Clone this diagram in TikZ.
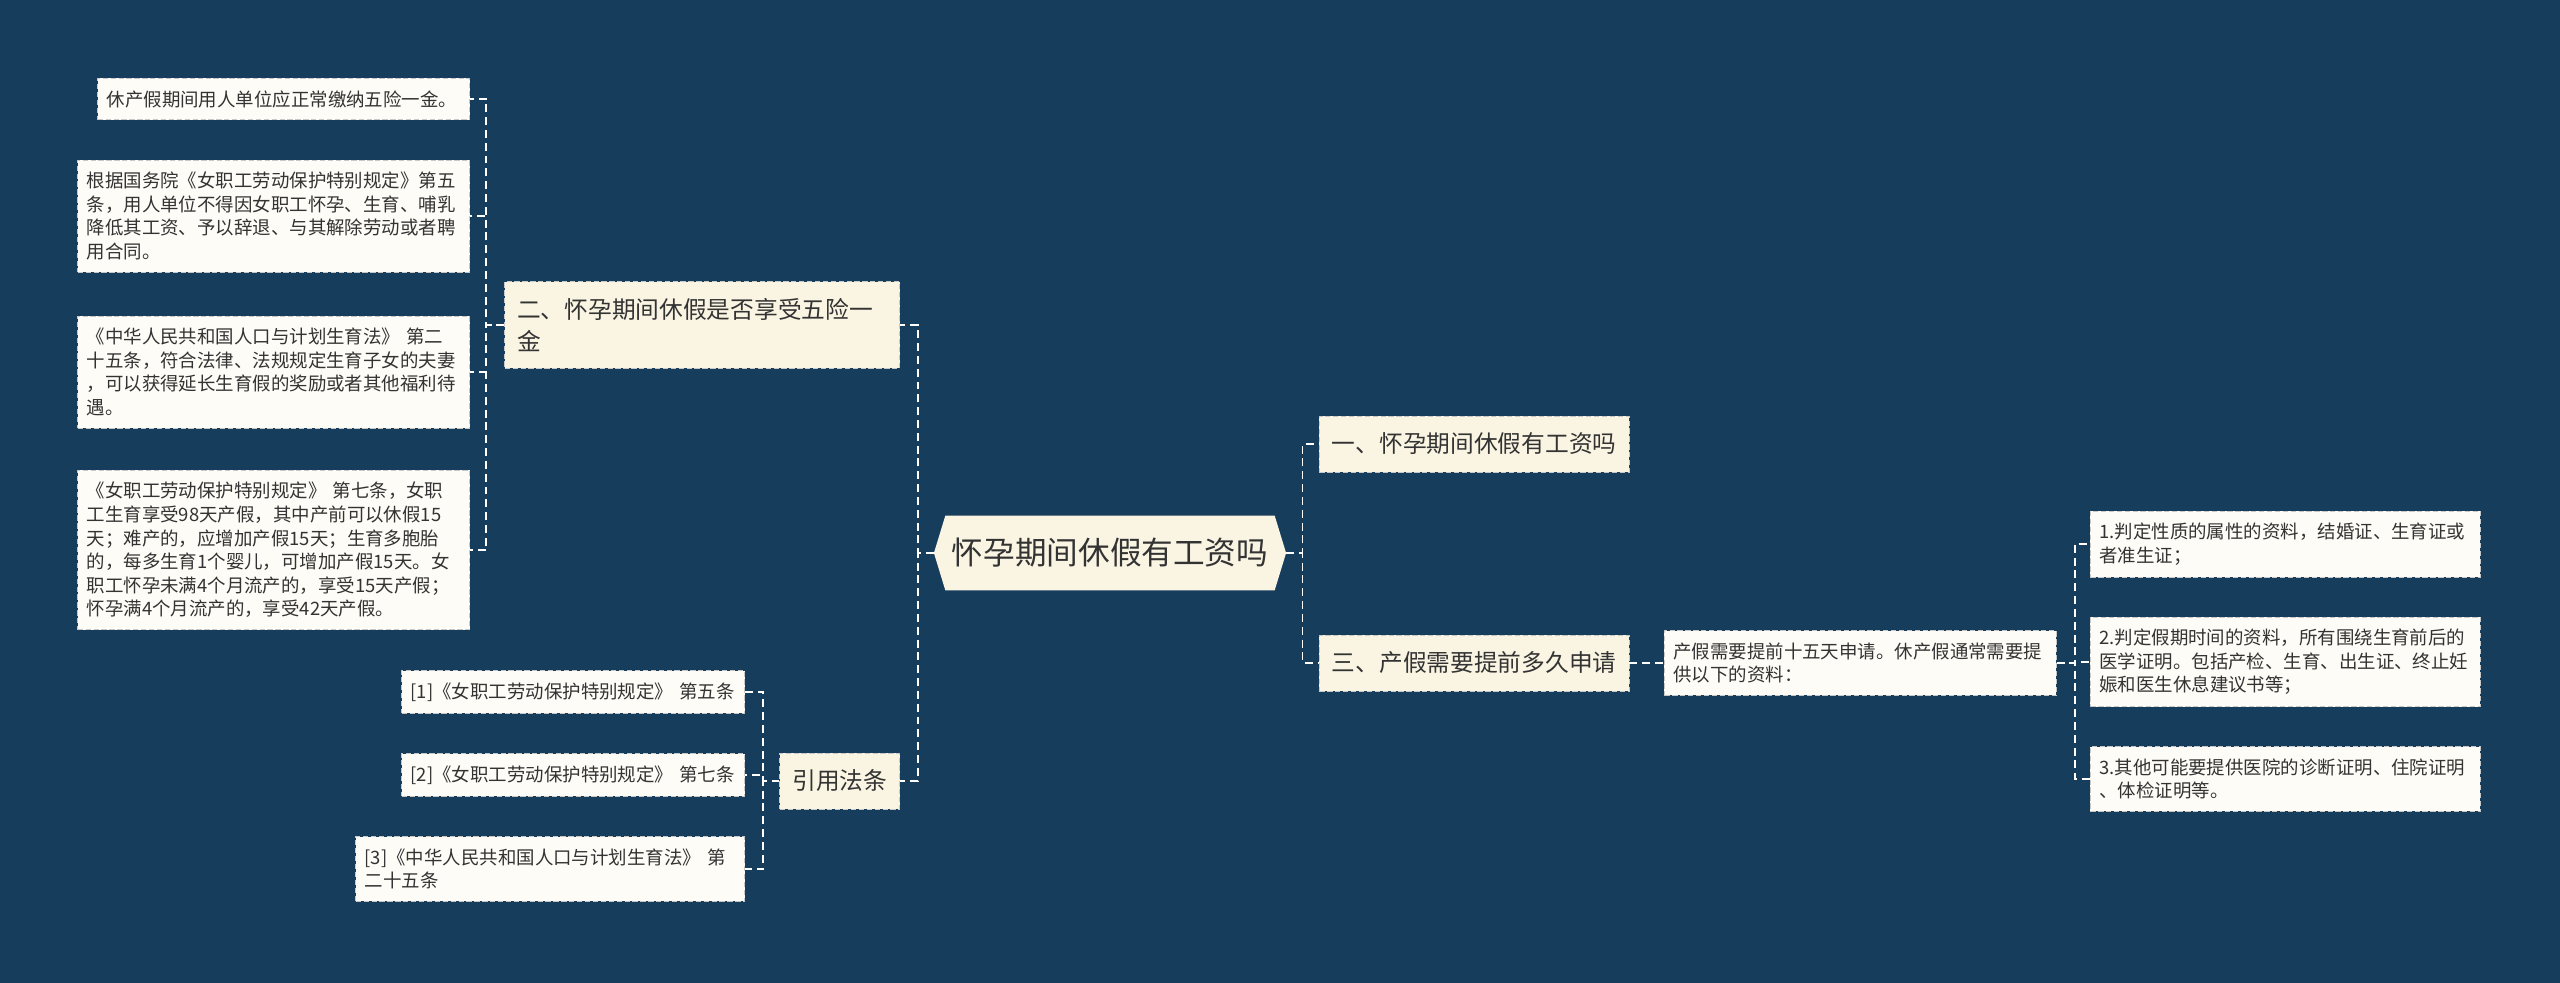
\documentclass[tikz,border=0pt]{standalone}
\usepackage{fontspec}
\setmainfont{Noto Sans CJK SC}
\usepackage{tikz}
\usetikzlibrary{shapes.symbols}
\usepackage{xcolor}
\definecolor{bgblue}{RGB}{23,61,92}
\definecolor{topicfill}{RGB}{250,245,227}
\definecolor{leaffill}{RGB}{253,252,246}
\definecolor{boxline}{RGB}{200,200,200}
\definecolor{txt}{RGB}{51,51,51}

\begin{document}
\begin{tikzpicture}[x=0.02cm, y=-0.02cm,
  root/.style={signal, signal to=west and east, signal pointer angle=146, fill=topicfill, text=txt, font=\fontsize{18pt}{22pt}\selectfont, minimum height=1.5cm, inner xsep=0.13cm},
  topic/.style={draw=boxline, dash pattern=on 3pt off 1.5pt, fill=topicfill, text=txt, font=\fontsize{13.5pt}{18pt}\selectfont, inner xsep=0.25cm, inner ysep=0.34cm, align=left},
  leaf/.style={draw=boxline, dash pattern=on 3pt off 1.5pt, fill=leaffill, text=txt, font=\fontsize{10.5pt}{13.4pt}\selectfont, inner xsep=0.18cm, inner ysep=0.24cm, align=left},
  link/.style={white, line width=1.1pt, dash pattern=on 4.5pt off 2.8pt}]
% 思维导图：怀孕期间休假有工资吗
\fill[bgblue] (0,0) rectangle (2560,983);
\useasboundingbox (0,0) rectangle (2560,983);

\node[root] (root) at (1110,553) {怀孕期间休假有工资吗};

\node[topic, anchor=east, text width=7.4cm] (t2) at (900,325) {二、怀孕期间休假是否享受五险一\\金};
\node[topic, anchor=east] (cite) at (900,781) {引用法条};
\node[topic, anchor=west] (t1) at (1319,444) {一、怀孕期间休假有工资吗};
\node[topic, anchor=west] (t3) at (1319,663) {三、产假需要提前多久申请};

\node[leaf, anchor=east, text width=7.08cm] (l1) at (470,99) {休产假期间用人单位应正常缴纳五险一金。};
\node[leaf, anchor=east, text width=7.48cm] (l2) at (470,216) {根据国务院《女职工劳动保护特别规定》第五\\条，用人单位不得因女职工怀孕、生育、哺乳\\降低其工资、予以辞退、与其解除劳动或者聘\\用合同。};
\node[leaf, anchor=east, text width=7.48cm] (l3) at (470,372) {《中华人民共和国人口与计划生育法》 第二\\十五条，符合法律、法规规定生育子女的夫妻\\，可以获得延长生育假的奖励或者其他福利待\\遇。};
\node[leaf, anchor=east, text width=7.48cm] (l4) at (470,550) {《女职工劳动保护特别规定》 第七条，女职\\工生育享受98天产假，其中产前可以休假15\\天；难产的，应增加产假15天；生育多胞胎\\的，每多生育1个婴儿，可增加产假15天。女\\职工怀孕未满4个月流产的，享受15天产假；\\怀孕满4个月流产的，享受42天产假。};

\node[leaf, anchor=east, text width=6.5cm] (c1) at (745,692) {[1]《女职工劳动保护特别规定》 第五条};
\node[leaf, anchor=east, text width=6.5cm] (c2) at (745,775) {[2]《女职工劳动保护特别规定》 第七条};
\node[leaf, anchor=east, text width=7.42cm] (c3) at (745,869) {[3]《中华人民共和国人口与计划生育法》 第\\二十五条};

\node[leaf, anchor=west, text width=7.48cm] (d) at (1664,663) {产假需要提前十五天申请。休产假通常需要提\\供以下的资料：};
\node[leaf, anchor=west, text width=7.44cm] (r1) at (2090,544) {1.判定性质的属性的资料，结婚证、生育证或\\者准生证；};
\node[leaf, anchor=west, text width=7.44cm] (r2) at (2090,662) {2.判定假期时间的资料，所有围绕生育前后的\\医学证明。包括产检、生育、出生证、终止妊\\娠和医生休息建议书等；};
\node[leaf, anchor=west, text width=7.44cm] (r3) at (2090,779) {3.其他可能要提供医院的诊断证明、住院证明\\、体检证明等。};

% 连线
\draw[link] (root.west) -- ++(-16,0) |- (t2.east);
\draw[link] (root.west) -- ++(-16,0) |- (cite.east);
\draw[link] (root.east) -- ++(16,0) |- (t1.west);
\draw[link] (root.east) -- ++(16,0) |- (t3.west);
\draw[link] (t2.west) -- ++(-18,0) |- (l1.east);
\draw[link] (t2.west) -- ++(-18,0) |- (l2.east);
\draw[link] (t2.west) -- ++(-18,0) |- (l3.east);
\draw[link] (t2.west) -- ++(-18,0) |- (l4.east);
\draw[link] (cite.west) -- ++(-16,0) |- (c1.east);
\draw[link] (cite.west) -- ++(-16,0) |- (c2.east);
\draw[link] (cite.west) -- ++(-16,0) |- (c3.east);
\draw[link] (t3.east) -- (d.west);
\draw[link] (d.east) -- ++(18,0) |- (r1.west);
\draw[link] (d.east) -- ++(18,0) |- (r2.west);
\draw[link] (d.east) -- ++(18,0) |- (r3.west);
\end{tikzpicture}
\end{document}
